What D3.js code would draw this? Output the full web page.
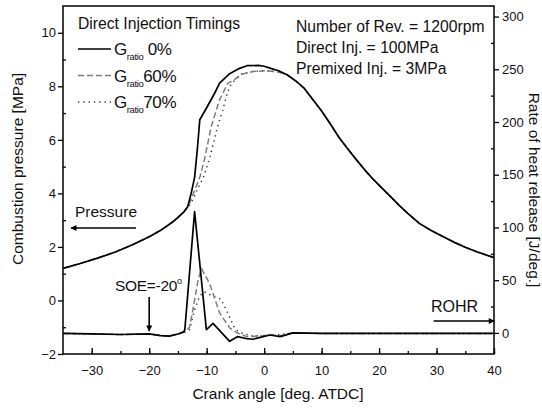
<!DOCTYPE html>
<html>
<head>
<meta charset="utf-8">
<script src="https://cdn.jsdelivr.net/npm/d3@7"></script>
<style>
  body { margin: 0; background: #fff; }
  svg text { font-family: "Liberation Sans", Arial, sans-serif; fill: #111; }
</style>
</head>
<body>
<div id="chart"></div>
<script>
// pressure [MPa], [crank angle, value]
const pressure0 = [[-35,1.2],[-32,1.38],[-29,1.58],[-26,1.8],[-23,2.07],[-20,2.38],[-18,2.62],[-16,2.92],[-15,3.1],[-14,3.3],[-13.3,3.5],
  [-12.7,4.0],[-12.1,4.6],[-11.6,5.7],[-11.2,6.75],[-10,7.2],[-8.6,7.75],[-7.75,8.12],[-6,8.47],[-4.5,8.65],[-3,8.77],[-1,8.78],
  [0,8.75],[1,8.68],[2.5,8.58],[4,8.43],[5.5,8.2],[7,7.92],[8.5,7.5],[10,7.08],[11.5,6.6],[13,6.1],[14.5,5.68],[16,5.27],[17.5,4.88],
  [19,4.52],[20.5,4.2],[22,3.88],[23.5,3.55],[25,3.25],[27,2.88],[29,2.62],[31,2.4],[33,2.18],[35,1.99],[37,1.82],[40,1.6]];
const pressure60 = [[-35,1.2],[-32,1.38],[-29,1.58],[-26,1.8],[-23,2.07],[-20,2.38],[-18,2.62],[-16,2.92],[-15,3.1],[-14,3.3],[-13.3,3.5],
  [-13,3.62],[-12.3,4.0],[-11.2,4.6],[-10.4,5.25],[-9.2,6.5],[-7.75,7.5],[-6.3,8.12],[-5.45,8.2],[-4,8.45],[-2,8.55],[0,8.58],
  [2,8.55],[3,8.5],[4,8.43],[5.5,8.2],[7,7.92],[8.5,7.5],[10,7.08],[11.5,6.6],[13,6.1],[14.5,5.68],[16,5.27],[17.5,4.88],
  [19,4.52],[20.5,4.2],[22,3.88],[23.5,3.55],[25,3.25],[27,2.88],[29,2.62],[31,2.4],[33,2.18],[35,1.99],[37,1.82],[40,1.6]];
const pressure70 = [[-35,1.2],[-32,1.38],[-29,1.58],[-26,1.8],[-23,2.07],[-20,2.38],[-18,2.62],[-16,2.92],[-15,3.1],[-14,3.3],[-13.3,3.5],
  [-13,3.55],[-12.45,3.76],[-11.5,4.2],[-10.6,4.58],[-9.4,5.37],[-8.6,6.07],[-8.1,6.5],[-7.2,7.1],[-6.6,7.62],[-6,7.99],[-5.45,8.15],
  [-4,8.45],[-2,8.55],[0,8.58],[2,8.55],[3,8.5],[4,8.43],[5.5,8.2],[7,7.92],[8.5,7.5],[10,7.08],[11.5,6.6],[13,6.1],[14.5,5.68],
  [16,5.27],[17.5,4.88],[19,4.52],[20.5,4.2],[22,3.88],[23.5,3.55],[25,3.25],[27,2.88],[29,2.62],[31,2.4],[33,2.18],[35,1.99],[37,1.82],[40,1.6]];

// rate of heat release [J/deg.]
const rohr0 = [[-35,-0.5],[-30,-1],[-25,-1.5],[-20,-1],[-18,-2.5],[-16.5,-3],[-15,-1],[-14,1],[-13.8,3],[-12.1,115],[-10.05,3],
  [-8.9,9],[-6,-8],[-4.6,-3.5],[-3,-5.5],[-2,-6],[-0.5,-4],[1,-2],[2.8,-3.5],[5,0],[10,-0.5],[20,-0.5],[30,-0.5],[40,-0.5]];
const rohr60 = [[-35,-0.5],[-30,-1],[-25,-1.5],[-20,-1],[-18,-2.5],[-16.5,-3],[-15,-1],[-14,0.5],[-13,5],[-12.4,22],[-11.5,50],
  [-10.9,61],[-9.5,47],[-7.75,19],[-6,4.7],[-4.6,-0.1],[-3,-3.5],[-1,-3],[1,-2],[3,-2.5],[5,0],[10,-0.5],[20,-0.5],[30,-0.5],[40,-0.5]];
const rohr70 = [[-35,-0.5],[-30,-1],[-25,-1.5],[-20,-1],[-18,-2.5],[-16.5,-3],[-15,-1],[-14,0],[-13,3],[-12.1,22],[-11.2,35],
  [-10.4,39],[-9,35],[-7.5,32],[-6,15],[-5.1,4],[-4,0],[-2,-3],[0,-2.5],[2,-2],[5,0],[10,-0.5],[20,-0.5],[30,-0.5],[40,-0.5]];

const xTicks = [-30, -20, -10, 0, 10, 20, 30, 40];
const yLeftTicks = [-2, 0, 2, 4, 6, 8, 10];
const yRightTicks = [0, 50, 100, 150, 200, 250, 300];
const legendLabels = ["0%", "60%", "70%"];
const infoLines = ["Number of Rev. = 1200rpm", "Direct Inj. = 100MPa", "Premixed Inj. = 3MPa"];

const width = 542, height = 408;
const plot = { left: 63, right: 494, top: 6, bottom: 354 };

const svg = d3.select("#chart").append("svg")
    .attr("width", width)
    .attr("height", height);

const x = d3.scaleLinear().domain([-35, 40]).range([plot.left, plot.right]);
const yP = d3.scaleLinear().domain([-2, 11]).range([plot.bottom, plot.top]);
const yR = d3.scaleLinear().domain([-20, 310]).range([plot.bottom, plot.top]);

const styles = [
    { stroke: "#000", width: 1.7, dash: null },
    { stroke: "#7c7c7c", width: 1.5, dash: "6,3" },
    { stroke: "#333", width: 1.5, dash: "1.3,4" }
];

// bottom axis: ticks inside
svg.append("g")
    .attr("transform", `translate(0,${plot.bottom})`)
    .call(d3.axisBottom(x).tickValues(d3.range(-30, 41, 5)).tickSize(-3).tickFormat(""))
    .call(g => g.select(".domain").remove());
const xAx = svg.append("g")
    .attr("transform", `translate(0,${plot.bottom})`)
    .call(d3.axisBottom(x).tickValues(xTicks).tickSize(-6).tickPadding(12));
xAx.select(".domain").remove();
xAx.selectAll("text").attr("font-size", "13px").attr("dy", "0.71em");

// left axis: major outward, minor inward
svg.append("g")
    .attr("transform", `translate(${plot.left},0)`)
    .call(d3.axisRight(yP).tickValues(d3.range(-1, 11, 2)).tickSize(3).tickFormat(""))
    .call(g => g.select(".domain").remove());
const yAx = svg.append("g")
    .attr("transform", `translate(${plot.left},0)`)
    .call(d3.axisLeft(yP).tickValues(yLeftTicks).tickSize(5).tickPadding(2));
yAx.select(".domain").remove();
yAx.selectAll("text").attr("font-size", "13px");

// right axis
svg.append("g")
    .attr("transform", `translate(${plot.right},0)`)
    .call(d3.axisLeft(yR).tickValues(d3.range(25, 300, 50)).tickSize(3).tickFormat(""))
    .call(g => g.select(".domain").remove());
const rAx = svg.append("g")
    .attr("transform", `translate(${plot.right},0)`)
    .call(d3.axisRight(yR).tickValues(yRightTicks).tickSize(5).tickPadding(3));
rAx.select(".domain").remove();
rAx.selectAll("text").attr("font-size", "13px");

svg.selectAll(".tick line").attr("stroke", "#000").attr("stroke-width", 1.3);

// frame
svg.append("rect")
    .attr("x", plot.left).attr("y", plot.top)
    .attr("width", plot.right - plot.left).attr("height", plot.bottom - plot.top)
    .attr("fill", "none").attr("stroke", "#000").attr("stroke-width", 1.5);

const lineP = d3.line().x(d => x(d[0])).y(d => yP(d[1]));
const lineR = d3.line().x(d => x(d[0])).y(d => yR(d[1]));

const pSeries = [pressure0, pressure60, pressure70];
const rSeries = [rohr0, rohr60, rohr70];

[2, 1, 0].forEach(function(i) {
    const s = styles[i];
    [[pSeries[i], lineP], [rSeries[i], lineR]].forEach(function(pair) {
        svg.append("path")
            .datum(pair[0])
            .attr("fill", "none")
            .attr("stroke", s.stroke)
            .attr("stroke-width", s.width)
            .attr("stroke-dasharray", s.dash)
            .attr("stroke-linejoin", "round")
            .attr("d", pair[1]);
    });
});

// legend
svg.append("text")
    .attr("x", 78).attr("y", 29)
    .attr("font-size", "15.7px")
    .text("Direct Injection Timings");

legendLabels.forEach(function(lab, i) {
    const ly = 49 + i * 26.5;
    const s = styles[i];
    svg.append("line")
        .attr("x1", 78).attr("x2", 111)
        .attr("y1", ly).attr("y2", ly)
        .attr("stroke", s.stroke)
        .attr("stroke-width", s.width)
        .attr("stroke-dasharray", s.dash);
    const t = svg.append("text")
        .attr("x", 114).attr("y", ly + 6)
        .attr("font-size", "17px").attr("letter-spacing", "-0.4px");
    t.append("tspan").text("G");
    t.append("tspan").attr("font-size", "9.5px").attr("dy", 5).text("ratio");
    t.append("tspan").attr("dy", -5).text(i === 0 ? "\u00a0" + lab : lab);
});

// info text
infoLines.forEach(function(l, i) {
    svg.append("text")
        .attr("x", 296).attr("y", 32 + i * 21)
        .attr("font-size", "15.7px")
        .text(l);
});

// arrows
svg.append("defs").append("marker")
    .attr("id", "ah")
    .attr("viewBox", "0 0 10 10")
    .attr("refX", 9).attr("refY", 5)
    .attr("markerWidth", 10).attr("markerHeight", 6)
    .attr("markerUnits", "userSpaceOnUse")
    .attr("orient", "auto")
    .append("path").attr("d", "M0,0L10,5L0,10Z").attr("fill", "#000");

function arrow(x1, y1, x2, y2) {
    svg.append("line")
        .attr("x1", x1).attr("y1", y1).attr("x2", x2).attr("y2", y2)
        .attr("stroke", "#000").attr("stroke-width", 1.6)
        .attr("marker-end", "url(#ah)");
}

svg.append("text")
    .attr("x", 75).attr("y", 217)
    .attr("font-size", "15.5px")
    .text("Pressure");
arrow(x(-22.3), 228, x(-33.6), 228);

const soe = svg.append("text")
    .attr("x", 115).attr("y", 291)
    .attr("font-size", "15.5px").attr("letter-spacing", "-0.3px");
soe.append("tspan").text("SOE=-20");
soe.append("tspan").attr("font-size", "9px").attr("dy", -7).text("o");
arrow(x(-20), 297, x(-20), 331);

svg.append("text")
    .attr("x", 431).attr("y", 312)
    .attr("font-size", "16px")
    .text("ROHR");
arrow(x(29.5), 321, x(40.9) - 5, 321);

// axis titles
svg.append("text")
    .attr("x", 278).attr("y", 399)
    .attr("text-anchor", "middle")
    .attr("font-size", "15.5px")
    .text("Crank angle [deg. ATDC]");

svg.append("text")
    .attr("transform", "translate(23,169) rotate(-90)")
    .attr("text-anchor", "middle")
    .attr("font-size", "15.5px")
    .text("Combustion pressure [MPa]");

svg.append("text")
    .attr("transform", "translate(529,190) rotate(90)")
    .attr("text-anchor", "middle")
    .attr("font-size", "15.5px")
    .text("Rate of heat release [J/deg.]");
</script>
</body>
</html>
